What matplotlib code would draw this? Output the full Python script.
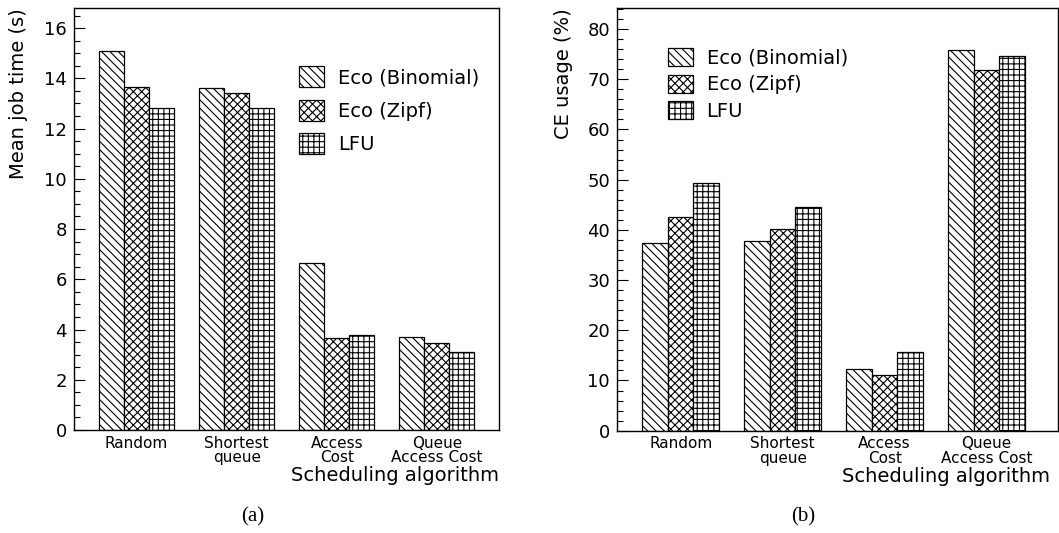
import matplotlib
matplotlib.use("Agg")
import matplotlib.pyplot as plt
import numpy as np
from matplotlib.patches import Patch
from matplotlib.ticker import MultipleLocator

categories = ["Random", "Shortest\nqueue", "Access\nCost", "Queue\nAccess Cost"]
series = ["Eco (Binomial)", "Eco (Zipf)", "LFU"]
hatches = ["\\\\\\\\", "xxxx", "+++"]

job_binomial = [15.1, 13.6, 6.65, 3.7]
job_zipf = [13.65, 13.4, 3.65, 3.45]
job_lfu = [12.8, 12.8, 3.8, 3.1]

ce_binomial = [37.3, 37.7, 12.2, 75.8]
ce_zipf = [42.5, 40.1, 11.1, 71.9]
ce_lfu = [49.4, 44.5, 15.6, 74.6]

plt.rcParams['hatch.linewidth'] = 0.8
plt.rcParams['font.family'] = ['DejaVu Sans']

W, H = 1059, 533
fig = plt.figure(figsize=(W / 100, H / 100), dpi=100)

def px_axes(x0, x1, y0, y1):
    return fig.add_axes([x0 / W, 1 - y1 / H, (x1 - x0) / W, (y1 - y0) / H])

ax1 = px_axes(74, 499, 8, 430)
ax2 = px_axes(617, 1058, 8, 430.7)

def draw(ax, data, ylim, major, minor, ylabel, xlabel_x, ylabel_x, legend_anchor, hh, ls, xright):
    x = np.arange(len(categories))
    w = 0.25
    for i, (vals, h) in enumerate(zip(data, hatches)):
        ax.bar(x + (i - 1) * w, vals, w, facecolor='white', edgecolor='black',
               linewidth=0.9, hatch=h)
    ax.set_xlim(-0.625, len(categories) - 1 + xright)
    ax.set_ylim(*ylim)
    ax.set_xticks(x)
    ax.set_xticklabels(categories, fontsize=11, linespacing=0.95)
    ax.tick_params(axis='x', length=0, pad=4)
    ax.yaxis.set_major_locator(MultipleLocator(major))
    ax.yaxis.set_minor_locator(MultipleLocator(minor))
    ax.tick_params(axis='y', which='major', direction='in', length=8, width=0.8,
                   labelsize=13, pad=5)
    ax.tick_params(axis='y', which='minor', direction='in', length=4, width=0.8)
    for s in ax.spines.values():
        s.set_linewidth(1.0)
    ax.set_ylabel(ylabel, fontsize=14, loc='top')
    ax.yaxis.set_label_coords(ylabel_x, 1.0)
    ax.set_xlabel("Scheduling algorithm", fontsize=14, loc='right')
    ax.xaxis.set_label_coords(xlabel_x, -0.085)
    handles = [Patch(facecolor='white', edgecolor='black', hatch=h, linewidth=0.9)
               for h in hatches]
    ax.legend(handles, series, loc='upper left',
              bbox_to_anchor=(legend_anchor[0] / W, 1 - legend_anchor[1] / H),
              bbox_transform=fig.transFigure, frameon=False, fontsize=14,
              handlelength=1.3, handleheight=hh, handletextpad=0.7,
              labelspacing=ls, borderpad=0, borderaxespad=0)

draw(ax1, [job_binomial, job_zipf, job_lfu], (0, 16.8), 2, 0.5,
     "Mean job time (s)", 1.0, -0.108, (299, 66), 1.29, 0.65, 0.62)
draw(ax2, [ce_binomial, ce_zipf, ce_lfu], (0, 84.2), 10, 2,
     "CE usage (%)", 0.982, -0.10, (667.7, 48), 1.03, 0.37, 0.70)

fig.text(253 / W, 1 - 517 / H, "(a)", fontsize=15, family='Liberation Serif',
         ha='center', va='center')
fig.text(803 / W, 1 - 517 / H, "(b)", fontsize=15, family='Liberation Serif',
         ha='center', va='center')

fig.savefig("out.png", dpi=100)
